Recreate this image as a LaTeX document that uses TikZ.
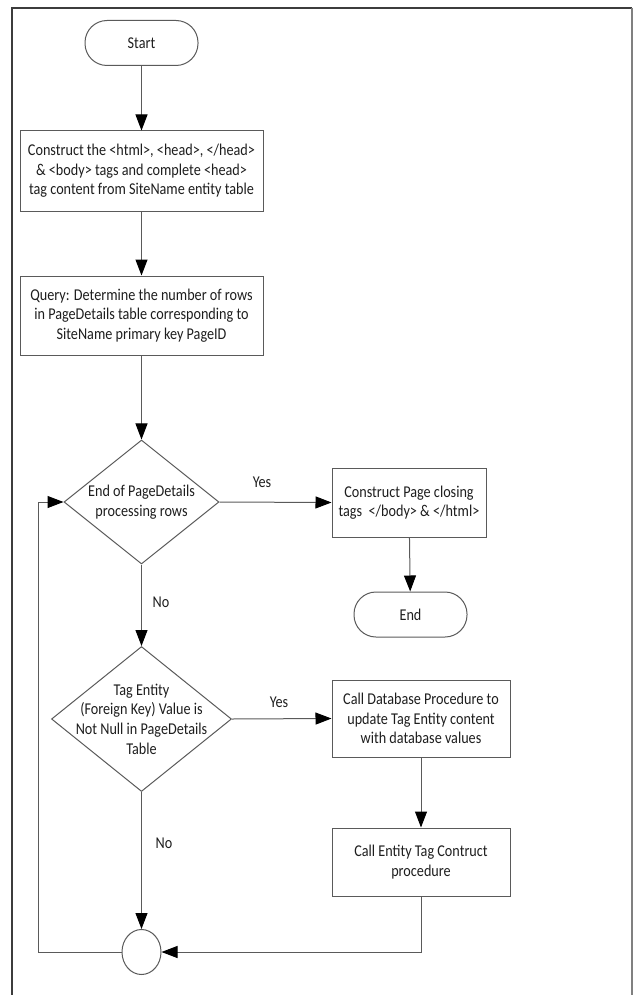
\documentclass[tikz,border=0pt]{standalone}
\usepackage{fontspec}
\setmainfont{Carlito}[FakeStretch=0.86]
\usetikzlibrary{arrows.meta,shapes.geometric}
\definecolor{linec}{HTML}{5A5A5A}
\definecolor{framec}{HTML}{3C3C3C}
\definecolor{textc}{HTML}{1E1E1E}
\begin{document}
\begin{tikzpicture}[x=1pt,y=-1pt,
  every node/.style={font=\fontsize{16.5}{19.6}\selectfont, text=textc},
  outline/.style={draw=linec, line width=1pt},
  terminal/.style={outline, rectangle, rounded corners=22pt, minimum width=113pt, minimum height=45pt, inner sep=0pt},
  procbox/.style={outline, rectangle, align=center, inner sep=0pt},
  decision/.style={outline, diamond, inner sep=0pt},
  dtext/.style={align=center, inner sep=0pt},
  junction/.style={outline, ellipse, minimum width=39pt, minimum height=45pt, inner sep=0pt},
  flow/.style={draw=linec, line width=1pt, -{Triangle[length=16pt,width=12pt,fill=black,color=black]}},
  answer/.style={inner sep=0pt}
]
\useasboundingbox (0,0) rectangle (633,995);

% page frame
\draw[framec, line width=1.3pt] (12,995) -- (12,8) -- (632,8);
\draw[gray, line width=1.3pt] (632,8) -- (632,995);

% main column
\node[terminal] (start) at (141.5,43) {Start};
\node[procbox, minimum width=243pt, minimum height=80pt] (html) at (141.5,171)
  {Construct the <html>, <head>, </head>\\\& <body> tags and complete <head>\\tag content from SiteName entity table};
\node[procbox, minimum width=243pt, minimum height=79pt] (query) at (141.5,315.5)
  {Query: Determine the number of rows\\in PageDetails table corresponding to\\SiteName primary key PageID};
\node[decision, minimum width=155pt, minimum height=124pt,
  label={[dtext]center:End of PageDetails\\processing rows}] (endrows) at (141.5,502) {};
\node[decision, minimum width=180pt, minimum height=145pt,
  label={[dtext]center:Tag Entity\\(Foreign Key) Value is\\Not Null in PageDetails\\Table}] (notnull) at (141.5,719) {};
\node[junction] (join) at (141.5,952) {};

% right column
\node[procbox, minimum width=154pt, minimum height=69pt] (close) at (409,502.5)
  {Construct Page closing\\tags~ </body> \& </html>};
\node[terminal] (finish) at (410.5,614.5) {End};
\node[procbox, minimum width=178pt, minimum height=77pt] (dbproc) at (421,718.5)
  {Call Database Procedure to\\update Tag Entity content\\with database values};
\node[procbox, minimum width=178pt, minimum height=68pt] (tagproc) at (421,862)
  {Call Entity Tag Contruct\\procedure};

% loop-back corners
\coordinate (lowcorner) at (421,952);
\coordinate (loopcorner) at (38,952);

% connectors
\draw[flow] (start) -- (html);
\draw[flow] (html) -- (query);
\draw[flow] (query) -- (endrows);
\draw[flow] (endrows.east) -- (close.west);
\draw[flow] (close) -- (finish);
\draw[flow] (endrows.south) -- (notnull.north);
\draw[flow] (notnull.east) -- (dbproc.west);
\draw[flow] (dbproc) -- (tagproc);
\draw[flow] (notnull.south) -- (join.north);
\draw[flow] (tagproc.south) -- (lowcorner) -- (join.east);
\draw[flow] (join.west) -- (loopcorner) |- (endrows.west);

% branch labels
\node[answer] (yes1) at (262,482) {Yes};
\node[answer] (no1) at (161,602) {No};
\node[answer] (yes2) at (279,702) {Yes};
\node[answer] (no2) at (164,843) {No};
\end{tikzpicture}
\end{document}
